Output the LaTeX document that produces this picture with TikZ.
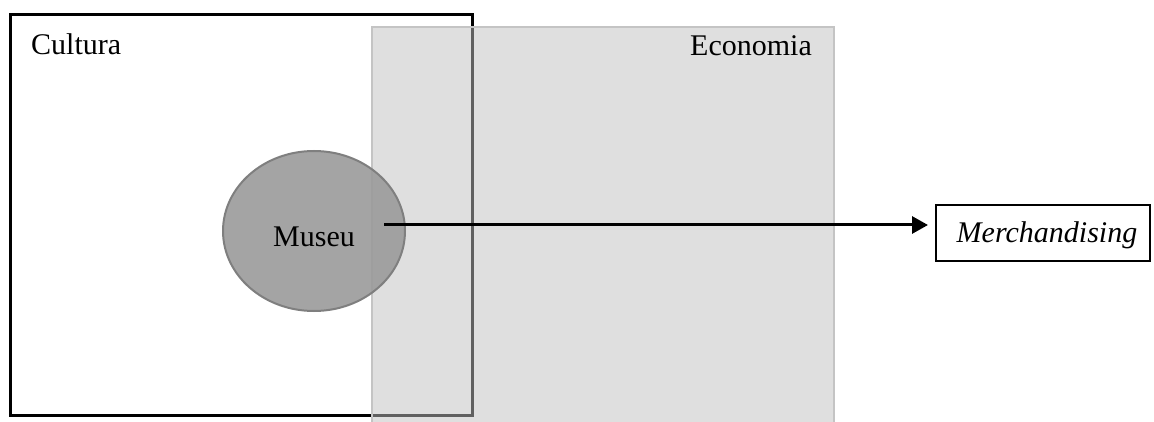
\documentclass[tikz,border=0pt]{standalone}
\usepackage{fontspec}
\setmainfont{Liberation Serif}
\usetikzlibrary{arrows.meta,shapes.geometric}
\definecolor{ecofill}{HTML}{C0C0C0}
\definecolor{ecoline}{HTML}{C4C4C4}
\definecolor{musfill}{HTML}{9A9A9A}
\definecolor{musline}{HTML}{7F7F7F}
\tikzset{
  lbl/.style={font=\fontsize{30}{36}\selectfont, inner sep=0pt, anchor=base},
  region/.style={rectangle, inner sep=0pt},
}
\begin{document}
\begin{tikzpicture}[x=1pt,y=-1pt]
\useasboundingbox (0,0) rectangle (1154,422);
% Cultura
\node[region, draw=black, line width=3pt, minimum width=462pt, minimum height=401pt] (cultura) at (241.75,215) {};
\node[lbl, anchor=base west] (cultlbl) at (31,55) {Cultura};
% Economia
\node[region, draw=ecoline, line width=2.5pt, fill=ecofill, fill opacity=0.5, minimum width=462pt, minimum height=400pt] (econ) at (603,227) {};
\node[lbl, anchor=base east] (econlbl) at (812,56) {Economia};
% Museu
\node[ellipse, draw=musline, line width=2pt, fill=musfill, fill opacity=0.9, minimum width=182pt, minimum height=160pt, inner sep=0pt] (museu) at (314,231) {};
\node[lbl] (muslbl) at (314,247) {Museu};
% Merchandising
\node[region, draw=black, line width=2pt, minimum width=214pt, minimum height=56pt] (merch) at (1043,233) {};
\node[lbl] (merchlbl) at (1047,243) {\itshape Merchandising};
% arrow
\coordinate (s) at (384,225);
\coordinate (t) at (928,225);
\draw[line width=3pt, -{Triangle[length=16pt,width=17pt]}] (s) -- (t);
\end{tikzpicture}
\end{document}
